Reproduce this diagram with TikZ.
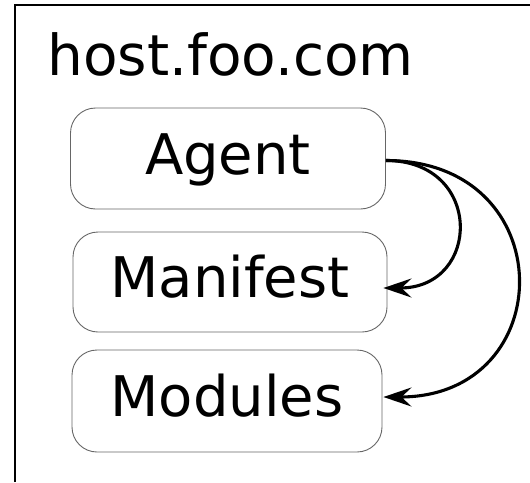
\documentclass[tikz,border=0pt]{standalone}
\usepackage{fontspec}
\setmainfont{DejaVu Sans}
\usetikzlibrary{arrows.meta}
\begin{document}
\begin{tikzpicture}[x=1pt,y=-1pt,
  box/.style={draw=black!60, line width=0.9pt, rounded corners=25pt, inner sep=0pt,
    font=\fontsize{56}{60}\selectfont, text height=41pt, text depth=10pt},
  link/.style={line width=3.1pt, -{Stealth[length=28pt,width=19pt,inset=10pt]}},
  frame/.style={line width=1.4pt}]
\useasboundingbox (0,0) rectangle (530,482);
\draw[frame] (15,482) -- (15,5) -- (530,5);
\node[anchor=base west, inner sep=0pt, font=\fontsize{56.5}{60}\selectfont] (host) at (47,75) {host.foo.com};
\node[box, minimum width=315pt, minimum height=101pt] (agent) at (228,158.5) {Agent};
\node[box, minimum width=314pt, minimum height=100pt] (manifest) at (230,282) {Manifest};
\node[box, minimum width=310pt, minimum height=102pt] (modules) at (227,401) {Modules};
\draw[link] ([yshift=-2pt]agent.east) .. controls +(98,0) and +(98,0) .. ([shift={(-4pt,-6pt)}]manifest.east);
\draw[link] ([yshift=-2pt]agent.east) .. controls +(177,0) and +(177,0) .. ([shift={(1pt,4pt)}]modules.east);
\end{tikzpicture}
\end{document}
